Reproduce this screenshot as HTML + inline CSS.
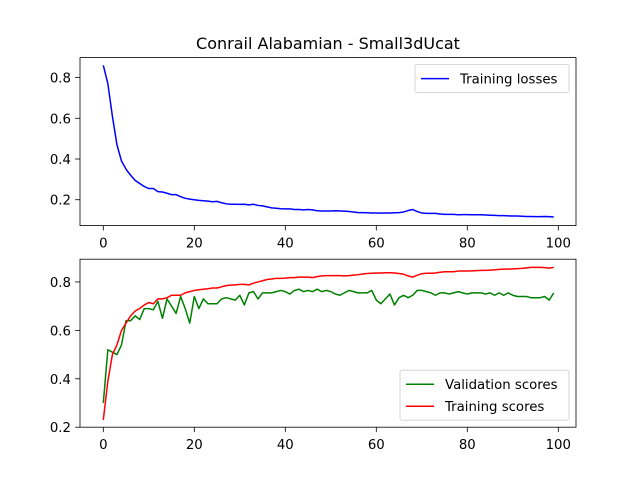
<!DOCTYPE html>
<html><head><meta charset="utf-8"><style>
body{margin:0;background:#fff;}
svg text{font-family:"DejaVu Sans","Liberation Sans",sans-serif;fill:#000;}
</style></head><body>
<svg id="fig" width="640" height="480" xmlns="http://www.w3.org/2000/svg">
<rect width="640" height="480" fill="#fff"/>
<text x="328" y="49" font-size="16" text-anchor="middle">Conrail Alabamian - Small3dUcat</text>
<g id="top"></g>
<g id="bot"></g>
</svg>
<script>
const epochs = Array.from({length:100},(_,i)=>i);
const trainLoss = [0.86,0.77,0.61,0.47,0.39,0.35,0.32,0.295,0.28,0.265,0.255,0.255,0.24,0.238,0.232,0.225,0.225,0.215,0.207,0.203,0.2,0.197,0.195,0.193,0.19,0.192,0.185,0.18,0.178,0.178,0.177,0.178,0.175,0.178,0.172,0.17,0.165,0.16,0.158,0.156,0.155,0.155,0.152,0.152,0.15,0.152,0.15,0.146,0.145,0.145,0.145,0.146,0.145,0.144,0.142,0.14,0.137,0.137,0.136,0.135,0.135,0.134,0.135,0.135,0.136,0.137,0.14,0.147,0.152,0.142,0.135,0.133,0.133,0.133,0.13,0.128,0.128,0.128,0.126,0.127,0.127,0.126,0.126,0.126,0.125,0.124,0.123,0.122,0.122,0.121,0.12,0.12,0.119,0.118,0.118,0.117,0.117,0.118,0.117,0.115];
const valScores = [0.3,0.52,0.51,0.5,0.54,0.64,0.64,0.66,0.645,0.69,0.69,0.685,0.72,0.65,0.73,0.7,0.67,0.74,0.69,0.63,0.74,0.69,0.73,0.71,0.71,0.71,0.73,0.735,0.73,0.725,0.745,0.705,0.755,0.76,0.73,0.755,0.755,0.755,0.76,0.765,0.76,0.75,0.765,0.77,0.76,0.765,0.76,0.77,0.76,0.765,0.76,0.75,0.745,0.755,0.765,0.76,0.755,0.755,0.755,0.765,0.725,0.71,0.73,0.75,0.705,0.735,0.745,0.735,0.745,0.765,0.765,0.76,0.755,0.745,0.755,0.755,0.75,0.755,0.76,0.755,0.75,0.755,0.755,0.755,0.75,0.755,0.745,0.755,0.745,0.755,0.745,0.74,0.74,0.74,0.735,0.735,0.735,0.74,0.725,0.755];
const trainScores = [0.23,0.39,0.5,0.54,0.6,0.63,0.66,0.68,0.69,0.705,0.715,0.71,0.73,0.73,0.735,0.745,0.745,0.745,0.755,0.76,0.765,0.768,0.77,0.772,0.775,0.775,0.78,0.785,0.787,0.788,0.79,0.79,0.788,0.795,0.8,0.805,0.81,0.812,0.815,0.815,0.816,0.818,0.818,0.82,0.82,0.82,0.818,0.822,0.825,0.826,0.826,0.826,0.826,0.825,0.826,0.828,0.83,0.833,0.835,0.836,0.837,0.837,0.838,0.838,0.837,0.835,0.832,0.825,0.82,0.828,0.834,0.836,0.836,0.837,0.84,0.842,0.842,0.842,0.845,0.845,0.845,0.846,0.847,0.848,0.848,0.849,0.85,0.852,0.853,0.853,0.854,0.855,0.856,0.858,0.86,0.86,0.86,0.859,0.857,0.86];
const xTicks = [0,20,40,60,80,100];
const topYTicks = [0.2,0.4,0.6,0.8];
const botYTicks = [0.2,0.4,0.6,0.8];
const NS="http://www.w3.org/2000/svg";
const X0=80,X1=576;
function xs(v){return 103.3+v*4.55;}
function mk(tag,attrs,parent){const e=document.createElementNS(NS,tag);for(const k in attrs)e.setAttribute(k,attrs[k]);parent.appendChild(e);return e;}
function axes(g,top,bot,ymin,ymax,yticks,series,legend,legendBottom,name){
  const ys=v=>bot-(v-ymin)/(ymax-ymin)*(bot-top);
  for(const s of series){
    const d=s.data.map((v,i)=>(i?'L':'M')+xs(epochs[i]).toFixed(2)+' '+ys(v).toFixed(2)).join('');
    const p=mk('path',{d:d,fill:'none',stroke:s.color,'stroke-width':1.5,'stroke-linejoin':'round'},g);
    
    
  }
  const fr=mk('rect',{x:X0,y:top,width:X1-X0,height:bot-top,fill:'none',stroke:'#000','stroke-width':0.8},g);
  
  
  for(const t of xTicks){
    mk('line',{x1:xs(t),x2:xs(t),y1:bot,y2:bot+4.9,stroke:'#000','stroke-width':0.8},g);
    const tx=mk('text',{x:xs(t),y:bot+22,'font-size':13.3,'text-anchor':'middle'},g);tx.textContent=t;
    
    
  }
  for(const t of yticks){
    const y=ys(t);
    mk('line',{x1:X0-4.9,x2:X0,y1:y,y2:y,stroke:'#000','stroke-width':0.8},g);
    const tx=mk('text',{x:X0-9,y:y+5,'font-size':13.3,'text-anchor':'end'},g);tx.textContent=t.toFixed(1);
    
    
  }
  const w=legend.w,h=legend.items.length*22+6;
  const lx=X1-7-w, ly=legendBottom?bot-7-h:top+7;
  const lg=mk('g',{},g);
  
  
  mk('rect',{x:lx,y:ly,width:w,height:h,rx:2,fill:'#fff','fill-opacity':0.8,stroke:'#ccc','stroke-width':0.8},lg);
  legend.items.forEach((it,i)=>{
    const cy=ly+14+i*22;
    mk('line',{x1:lx+6,x2:lx+34,y1:cy,y2:cy,stroke:it.color,'stroke-width':1.5},lg);
    const t=mk('text',{x:lx+45,y:cy+5,'font-size':13.3},lg);t.textContent=it.label;
    
    
  });
}
axes(document.getElementById('top'),57.6,225.6,0.073,0.898,topYTicks,
 [{data:trainLoss,color:'#0000ff',name:'training-losses-line'}],
 {w:154,items:[{label:'Training losses',color:'#0000ff'}]},false,'top-axes');
axes(document.getElementById('bot'),259.2,427.2,0.2,0.894,botYTicks,
 [{data:valScores,color:'#008000',name:'validation-scores-line'},{data:trainScores,color:'#ff0000',name:'training-scores-line'}],
 {w:169,items:[{label:'Validation scores',color:'#008000'},{label:'Training scores',color:'#ff0000'}]},true,'bottom-axes');
</script>
</body></html>
